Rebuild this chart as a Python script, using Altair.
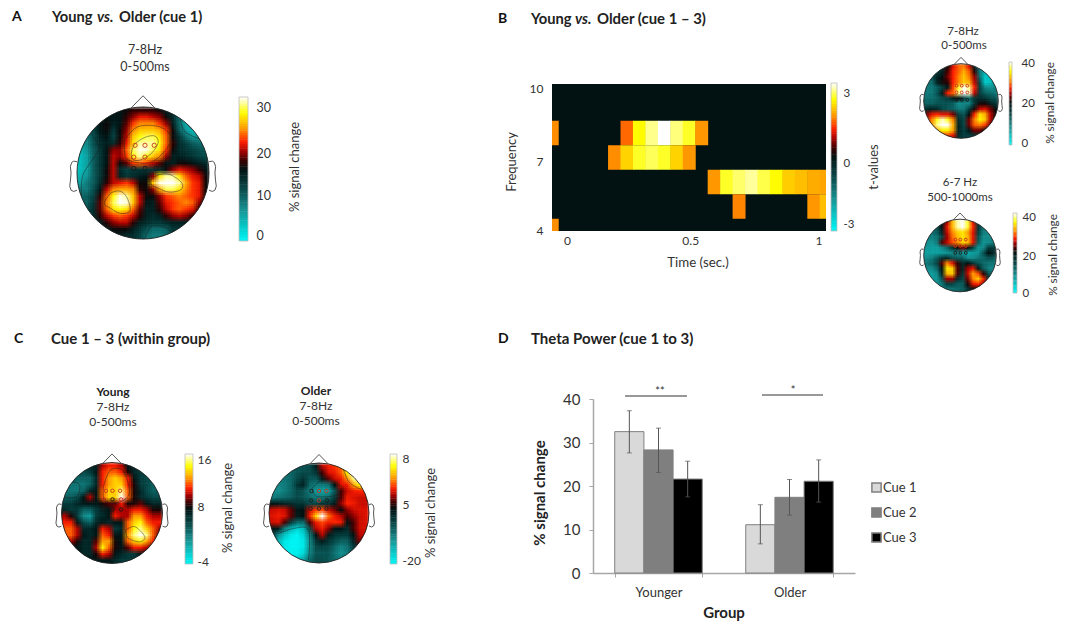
import altair as alt
import numpy as np
import pandas as pd

W, H = 1052, 613
FONT = "Lato"

# ---------- panel D data ----------
groups = ["Younger", "Older"]
cues = ["Cue 1", "Cue 2", "Cue 3"]
bar_younger = [32.5, 28.3, 21.6]
bar_older = [11.1, 17.4, 21.1]
err_hi_younger = [37.3, 33.3, 25.7]
err_lo_younger = [27.6, 23.1, 17.5]
err_hi_older = [15.7, 21.5, 26.0]
err_lo_older = [6.7, 13.3, 16.3]

# ---------- panel B time-frequency t-values (rows: Hz, columns: time index -1..21, 50 ms) ----------
tf_freqs = [8, 7, 6, 5, 4]
tf_8 = [1.9, 0, 0, 0, 0, 0, 1.7, 2.7, 3.15, 3.5, 3.1, 2.85, 1.95, 0, 0, 0, 0, 0, 0, 0, 0, 0, 0]
tf_7 = [0, 0, 0, 0, 0, 1.9, 2.4, 2.85, 3.0, 2.85, 2.4, 1.95, 0, 0, 0, 0, 0, 0, 0, 0, 0, 0, 0]
tf_6 = [0, 0, 0, 0, 0, 0, 0, 0, 0, 0, 0, 0, 0, 1.95, 2.85, 3.05, 3.2, 2.95, 2.7, 2.35, 2.25, 2.1, 2.05]
tf_5 = [0, 0, 0, 0, 0, 0, 0, 0, 0, 0, 0, 0, 0, 0, 0, 1.85, 0, 0, 0, 0, 0, 1.95, 2.25]
tf_4 = [1.9, 0, 0, 0, 0, 0, 0, 0, 0, 0, 0, 0, 0, 0, 0, 0, 0, 0, 0, 0, 0, 0, 0]

# ---------- topographies: % signal change, top row first ----------
map_a = [
 [12,12,12,13,14,15,16,17,18,18,18,18,17,15,13,11,10,9,9,9],
 [12,12,13,15,16,16,16,18,20,22,22,21,20,17,14,9,5,4,4,4],
 [12,11,13,16,17,15,16,19,23,25,25,25,23,20,15,9,4,3,3,4],
 [10,9,12,16,17,13,17,20,25,27,27,27,26,23,17,10,6,3,3,5],
 [8,8,11,15,16,12,17,21,27,29,30,30,28,24,17,13,9,6,6,7],
 [6,7,11,14,15,14,18,22,28,31,31,31,29,24,18,14,12,10,9,9],
 [4,6,10,13,16,20,20,24,30,32,32,30,28,23,17,14,13,12,11,10],
 [3,5,10,13,16,21,20,23,29,31,29,27,25,20,15,15,14,13,12,11],
 [3,5,10,13,16,21,17,19,23,24,23,21,19,16,15,17,17,16,15,14],
 [3,5,10,13,17,21,14,12,13,13,13,13,14,17,20,22,21,20,18,16],
 [4,6,10,13,17,21,15,13,14,15,16,20,28,31,31,28,24,22,21,17],
 [5,8,10,14,18,21,22,23,21,17,17,27,32,33,33,31,26,23,22,17],
 [8,8,11,16,21,25,26,26,25,18,17,20,26,30,30,28,25,23,22,17],
 [9,10,12,18,24,29,32,31,27,21,17,17,20,23,24,25,24,23,22,17],
 [9,10,13,19,25,30,33,32,27,21,16,15,19,22,23,24,25,24,20,16],
 [10,11,14,19,24,28,29,28,24,19,15,15,18,21,23,24,23,22,18,15],
 [11,11,14,18,21,23,24,23,21,18,15,14,15,18,20,21,20,18,15,14],
 [12,12,13,15,18,20,21,21,18,15,14,13,13,14,15,15,15,14,13,13],
 [12,12,13,14,15,17,17,17,15,13,11,9,9,10,13,13,13,13,13,13],
 [13,13,13,14,14,15,15,14,14,12,9,8,8,9,12,13,13,13,13,13],
]
map_b1 = [
 [14,14,15,17,21,27,30,31,27,18,10,8,8,9],
 [12,14,15,18,23,28,30,33,30,22,10,5,6,9],
 [11,13,18,20,24,28,31,34,31,25,11,3,4,9],
 [10,11,18,21,22,28,31,34,33,26,14,3,4,9],
 [10,10,12,15,19,29,37,42,39,28,15,9,8,9],
 [10,10,13,19,28,30,39,42,40,26,15,12,11,10],
 [11,11,12,14,15,18,20,15,11,16,17,16,14,13],
 [12,12,13,13,13,12,8,9,9,16,21,21,18,16],
 [17,18,17,14,13,12,10,10,15,21,26,27,24,20],
 [24,27,28,27,27,24,15,13,20,28,35,33,26,21],
 [27,31,37,40,37,31,17,14,24,31,36,34,26,21],
 [27,32,39,41,41,33,18,14,24,30,31,29,24,21],
 [24,28,33,36,36,32,18,15,19,24,24,21,19,19],
 [21,23,27,29,29,27,17,15,15,16,17,16,16,16],
]
map_b2 = [
 [14,14,15,20,27,35,41,43,39,29,17,13,13,13],
 [13,13,15,22,29,35,41,43,39,30,18,12,12,12],
 [12,12,14,20,28,33,36,37,34,29,17,11,10,10],
 [11,11,12,16,27,32,35,37,35,29,15,10,10,10],
 [10,9,11,25,28,31,33,36,35,29,14,9,10,11],
 [9,8,8,10,13,18,23,26,23,16,9,10,17,17],
 [8,8,8,8,9,10,10,8,7,8,9,15,22,19],
 [10,11,14,18,19,15,14,14,10,10,12,13,15,14],
 [12,13,16,25,33,29,24,19,22,18,15,13,12,12],
 [10,10,13,22,37,36,25,20,27,29,21,14,11,10],
 [8,8,10,20,35,36,25,18,28,34,31,24,15,12],
 [8,8,9,15,27,27,19,16,26,33,36,30,19,14],
 [9,9,9,12,17,16,14,14,23,29,30,27,18,14],
 [11,11,11,11,12,12,13,14,18,22,23,19,15,14],
]
map_young = [
 [5,5,5,6,6,6,10,11,11,10,7,6,5,5,5,5],
 [5,4,4,4,5,7,11,12,12,11,8,6,5,5,5,5],
 [4,4,3,3,3,6,11,13,14,13,11,7,5,4,4,4],
 [3,2,2,2,3,6,11,13,14,14,11,8,5,4,3,3],
 [2,2,2,3,6,7,12,14,14,16,12,8,6,4,3,3],
 [3,3,4,7,10,7,12,14,14,17,12,8,6,5,4,4],
 [5,5,6,7,7,7,8,9,9,11,8,8,9,7,6,6],
 [6,5,5,3,3,5,6,7,10,10,10,11,11,10,8,8],
 [10,8,5,1,0,5,6,7,11,10,10,13,13,11,10,10],
 [11,11,7,4,3,6,7,6,7,7,12,14,15,12,11,11],
 [12,12,10,6,6,7,11,10,5,6,12,15,16,14,12,10],
 [12,12,10,7,6,7,12,11,7,7,13,16,17,16,12,9],
 [10,10,8,6,6,9,13,13,8,7,12,14,15,13,11,8],
 [7,7,7,6,6,10,15,12,8,7,9,11,11,10,8,7],
 [7,7,7,6,6,8,11,10,7,6,5,5,7,7,7,7],
 [7,7,7,7,7,7,7,7,6,5,5,5,6,7,7,7],
]
map_older = [
 [-5,-5,-5,-5,-4,-4,-3,3,5.7,6,6.2,6.4,7,8,8,8],
 [-6,-6,-6,-6,-4,-3,-3,0,5.2,5.9,6,6.4,7.5,8.3,8.3,8.3],
 [-8,-8,-7,-6,-3,0,-4,-4,3,5.3,5.8,6,6.7,7.9,8.3,8.3],
 [-9,-9,-8,-6,0,2,-6,-8,-8,-7,4.5,5.9,6,6.8,7.5,7.7],
 [-10,-10,-8,-6,-3,-4,-8,-11,-12,-12,-4,5.2,5.8,6,6.1,6.1],
 [-8,-7,-6,-5,-3,-4,-6,-8,-8,-6,-1,5.2,6,5.9,5.8,5.8],
 [4,3,2,1,0,0,-3,-2,0,0,3,5.5,6.1,6,5.8,5.8],
 [5.8,5.9,5.8,5.3,3,4,5.8,6.2,6.3,5.8,5.4,4.6,5.5,5.8,5.9,5.9],
 [5.9,6,5.9,5.3,3,4.6,6,7.2,8.3,6.5,6,5.7,5.2,5.5,5.8,5.9],
 [5.8,5.9,5.2,-1,-6,-6,5.2,6,6.3,6,6.1,6,4.2,5.2,5.8,5.9],
 [4,3,-8,-14,-18,-15,-3,5.7,6,5.5,4,4,1,5.2,5.8,5.9],
 [0,-10,-16,-20,-22,-18,-8,4,5.7,3,0,-1,-1,4,5.7,5.8],
 [-6,-14,-20,-22,-22,-20,-10,0,3,0,-3,-5,-5,2,5.4,5.2],
 [-10,-16,-20,-22,-22,-20,-10,-3,-2,-3,-6,-9,-7,-1,2,2],
 [-12,-16,-20,-21,-21,-18,-9,-4,-4,-4,-7,-10,-8,-3,-2,-2],
 [-12,-16,-18,-18,-16,-12,-6,-3,-3,-4,-6,-8,-6,-4,-4,-4],
]

# electrodes (x, y, kind) in head units
elec_a = [(-.12,.42,"r"),(.03,.42,"r"),(.17,.42,"r"),(-.14,.24,"r"),(.03,.24,"r"),(-.14,.07,"k"),(.03,.07,"k"),(.2,.07,"k")]
elec_b1 = [(-.12,.41,"r"),(.02,.41,"r"),(.17,.41,"r"),(-.12,.23,"r"),(.02,.23,"r"),(.17,.23,"r"),(-.12,.03,"k"),(.02,.03,"k"),(.17,.03,"k")]
elec_b2 = [(-.13,.44,"r"),(.01,.44,"r"),(.16,.44,"r"),(-.13,.26,"r"),(.01,.26,"r"),(.16,.26,"r"),(-.13,.07,"k"),(.01,.07,"k"),(.16,.07,"k")]
elec_y = [(-.12,.44,"r"),(.01,.44,"r"),(.16,.44,"r"),(-.16,.27,"r"),(.01,.27,"k"),(.18,.27,"r"),(-.18,.07,"k"),(.01,.07,"k"),(.18,.07,"k")]
elec_o = [(-.15,.44,"k"),(0,.44,"r"),(.15,.44,"r"),(-.16,.25,"k"),(0,.25,"r"),(.16,.25,"k"),(-.17,.09,"k"),(0,.09,"k"),(.15,.09,"k")]

nose = [(-.18,.985),(0,1.17),(.18,.985)]
ear = [(1.0,.17),(1.05,.18),(1.08,.16),(1.1,.1),(1.09,.0),(1.1,-.12),(1.11,-.2),(1.09,-.26),(1.05,-.28),(1.0,-.26)]

# contour lines, in head units
cont_a = [
 [(-.18,.28),(-.13,.43),(.03,.54),(.18,.56),(.23,.46),(.13,.30),(-.03,.20),(-.15,.20),(-.18,.28)],
 [(.10,-.12),(.23,-.03),(.40,-.02),(.58,-.14),(.58,-.25),(.40,-.29),(.23,-.23),(.13,-.18),(.10,-.12)],
 [(-.58,-.43),(-.48,-.30),(-.33,-.28),(-.23,-.40),(-.20,-.58),(-.35,-.61),(-.50,-.53),(-.58,-.48),(-.58,-.43)],
 [(-.28,.50),(-.08,.70),(.25,.70),(.43,.53),(.30,.30),(.08,.15),(-.23,.20),(-.28,.35),(-.28,.50)],
 [(.56,.88),(.63,.63),(.91,.50)],
 [(.65,.80),(.72,.68),(.95,.55)],
 [(.03,-.99),(.13,-.81),(.35,-.83),(.51,-.96)],
 [(-.81,.63),(-.68,.43),(-.68,.33),(-.91,-.03),(-.93,-.35)],
]
cont_y = [
 [(-.17,.52),(-.04,.84),(.19,.86),(.32,.59),(.32,.33),(.09,.2),(-.15,.25),(-.17,.52)],
 [(.27,-.34),(.45,-.27),(.65,-.47),(.55,-.57),(.32,-.50),(.27,-.34)],
 [(-.97,.32),(-.80,.59),(-.64,.55),(-.70,.32),(-.97,.32)],
]
cont_o = [
 [(-.81,-.41),(-.51,-.31),(-.21,-.34),(-.21,-.94)],
 [(-.14,.49),(.09,.66),(.46,.53),(.36,.36),(-.04,.33),(-.14,.49)],
 [(.47,.94),(.60,.62),(.85,.47)],
]

# ---------- colour map ----------
T_STOPS = [0, .05, .22, .36, .5, .56, .62, .69, .78, .89, 1]
C_STOPS = ["#00f5f5", "#00e0e0", "#189090", "#0a4a4a", "#021212", "#3a0000", "#a00000", "#ff2000", "#ff9900", "#ffff00", "#ffffff"]

def t2v(t, lo, mid, hi):
    return lo + t / .5 * (mid - lo) if t <= .5 else mid + (t - .5) / .5 * (hi - mid)

def color_scale(lo, mid, hi):
    return alt.Scale(domain=[t2v(t, lo, mid, hi) for t in T_STOPS], range=C_STOPS,
                     interpolate="rgb", clamp=True)

layers = []

def px(x): return x - 8
def py(y): return y - 8

def text(s, x, y, size=12, bold=False, italic=False, angle=0, align="left", color="#333333"):
    mk = dict(text=s, font=FONT, fontSize=size, align=align, baseline="middle", color=color, angle=angle)
    if bold: mk["fontWeight"] = "bold"
    if italic: mk["fontStyle"] = "italic"
    layers.append(alt.Chart().mark_text(**mk).encode(x=alt.value(px(x)), y=alt.value(py(y))))

def colorbar(x0, x1, ytop, ybot, lo, mid, hi, ticks, labels_expr="'' + datum.value", n=64, label_pad=6, size=12):
    ymid = (ytop + ybot) / 2
    ys = alt.Scale(domain=[lo, mid, hi], range=[py(ybot), py(ymid), py(ytop)], nice=False, zero=False)
    ts = np.arange(n) / n
    d = pd.DataFrame({
        "v0": [t2v(t, lo, mid, hi) for t in ts],
        "v1": [t2v(min(t + 1.2 / n, 1), lo, mid, hi) for t in ts],
        "c": [t2v(t + .5 / n, lo, mid, hi) for t in ts],
    })
    ax = dict(orient="right", values=ticks, title=None, domain=False, ticks=False, grid=False,
              labelFont=FONT, labelFontSize=size, labelColor="#333333", labelPadding=label_pad,
              offset=-(W - px(x1)), labelOverlap=False, labelBound=False, labelFlush=False, labelExpr=labels_expr)
    layers.append(alt.Chart(d).mark_rect().encode(
        x=alt.value(px(x0)), x2=alt.value(px(x1)),
        y=alt.Y("v0:Q", scale=ys, axis=alt.Axis(**ax)), y2="v1:Q",
        color=alt.Color("c:Q", scale=color_scale(lo, mid, hi), legend=None)))
    d2 = pd.DataFrame({"a": [lo], "b": [hi]})
    layers.append(alt.Chart(d2).mark_rect(fill=None, stroke="#bdbdbd", strokeWidth=0.8).encode(
        x=alt.value(px(x0)), x2=alt.value(px(x1)),
        y=alt.Y("a:Q", scale=ys, axis=None), y2="b:Q"))

def head(grid, cx, cy, r, lo, mid, hi, elec, esize=14, contours=()):
    sx = alt.Scale(domain=[-1, 1], range=[px(cx - r), px(cx + r)], nice=False, zero=False)
    sy = alt.Scale(domain=[-1, 1], range=[py(cy + r), py(cy - r)], nice=False, zero=False)
    X = lambda f: alt.X(f, scale=sx, axis=None)
    Y = lambda f: alt.Y(f, scale=sy, axis=None)
    n = len(grid); c = 2 / n
    base = []
    for j, row in enumerate(grid):
        for i, v in enumerate(row):
            x0, x1 = -1 + i * c, -1 + (i + 1) * c
            y1, y0 = 1 - j * c, 1 - (j + 1) * c
            nx = x0 if x0 > 0 else (x1 if x1 < 0 else 0)
            ny = y0 if y0 > 0 else (y1 if y1 < 0 else 0)
            if nx * nx + ny * ny < (1 + .5 * c) ** 2:
                base.append((x0, x1, y0, y1, v))
    # the same cells are stacked at sub-cell shifts so that their edges soften as in the blurred original
    rows = []
    k = 0
    for dy in (-c / 3, 0, c / 3):
        for dx in (-c / 3, 0, c / 3):
            k += 1
            for x0, x1, y0, y1, v in base:
                rows.append(dict(x0=x0 + dx, x1=x1 + dx + .03 * c, y0=y0 + dy - .03 * c, y1=y1 + dy, v=v, a=1 / k))
    layers.append(alt.Chart(pd.DataFrame(rows)).mark_rect().encode(
        x=X("x0:Q"), x2="x1:Q", y=Y("y0:Q"), y2="y1:Q",
        color=alt.Color("v:Q", scale=color_scale(lo, mid, hi), legend=None),
        opacity=alt.Opacity("a:Q", scale=None, legend=None)))
    if contours:
        cr = [dict(x=a, y=b, o=m, p=q) for q, line in enumerate(contours) for m, (a, b) in enumerate(line)]
        layers.append(alt.Chart(pd.DataFrame(cr)).mark_line(color="#1a1a1a", strokeWidth=0.6, opacity=.75, interpolate="cardinal").encode(
            x=X("x:Q"), y=Y("y:Q"), order="o:Q", detail="p:N"))
    cell_px = c * r
    w = 3 * cell_px
    centre = pd.DataFrame({"x": [0.0], "y": [0.0]})
    layers.append(alt.Chart(centre).mark_point(filled=False, stroke="white", strokeWidth=w, size=(2 * r + w) ** 2, opacity=1).encode(
        x=X("x:Q"), y=Y("y:Q")))
    layers.append(alt.Chart(centre).mark_point(filled=False, stroke="#222222", strokeWidth=0.9, size=(2 * r) ** 2, opacity=1).encode(
        x=X("x:Q"), y=Y("y:Q")))
    outlines = []
    for k2, (a, b) in enumerate(nose): outlines.append(dict(x=a, y=b, o=k2, p="n"))
    for k2, (a, b) in enumerate(ear): outlines.append(dict(x=a, y=b, o=k2, p="r"))
    for k2, (a, b) in enumerate(ear): outlines.append(dict(x=-a, y=b, o=k2, p="l"))
    layers.append(alt.Chart(pd.DataFrame(outlines)).mark_line(color="#444444", strokeWidth=0.9).encode(
        x=X("x:Q"), y=Y("y:Q"), order="o:Q", detail="p:N"))
    e = pd.DataFrame(elec, columns=["x", "y", "k"])
    layers.append(alt.Chart(e).mark_point(filled=False, size=esize, strokeWidth=0.9, opacity=1).encode(
        x=X("x:Q"), y=Y("y:Q"),
        color=alt.Color("k:N", scale=alt.Scale(domain=["r", "k"], range=["#c8321e", "#1a1a1a"]), legend=None)))

# ---------- panel A ----------
head(map_a, 143, 173, 66, -1.4, 16.5, 32.3, elec_a, 18, cont_a)
colorbar(239, 248, 97, 241, -1.4, 16.5, 32.3, [0, 10, 20, 30], label_pad=8, size=12.5)
text("7-8Hz", 145, 50, 12.5, align="center")
text("0-500ms", 145, 67, 12.5, align="center")
text("% signal change", 295, 167, 13, angle=270, align="center")

# ---------- panel B time-frequency ----------
tf_rows = {10: None, 9: None, 8: tf_8, 7: tf_7, 6: tf_6, 5: tf_5, 4: tf_4}
rows = [dict(t0=-.05, t1=1.05, f0=4, f1=10, v=0)]
for f, row in tf_rows.items():
    row = row if row is not None else [0] * 23
    for k, v in enumerate(row):
        if v:
            t = (k - 1) * 0.05
            rows.append(dict(t0=max(t - .025, -.05), t1=min(t + .027, 1.05), f0=max(f - .5, 4), f1=min(f + .5, 10), v=v))
tf_lo, tf_mid, tf_hi = -3.5, 0, 3.5
tx = alt.Scale(domain=[-.05, 1.05], range=[px(552), px(826)], nice=False, zero=False)
ty = alt.Scale(domain=[4, 10], range=[py(231), py(84)], nice=False, zero=False)
layers.append(alt.Chart(pd.DataFrame(rows)).mark_rect().encode(
    x=alt.X("t0:Q", scale=tx, axis=alt.Axis(values=[0.01, 0.505, 1.02], labelExpr="round(datum.value*2)/2", title=None,
            orient="bottom", domain=False, ticks=False, grid=False, labelFont=FONT, labelFontSize=12, labelColor="#333333",
            labelPadding=4, offset=py(231) - H, labelOverlap=False, labelBound=False, labelFlush=False)),
    x2="t1:Q",
    y=alt.Y("f0:Q", scale=ty, axis=alt.Axis(values=[9.83, 6.83, 4.03], labelExpr="round(datum.value)", title=None,
            orient="left", domain=False, ticks=False, grid=False, labelFont=FONT, labelFontSize=12, labelColor="#333333",
            labelPadding=9, offset=-px(552), labelOverlap=False, labelBound=False, labelFlush=False)),
    y2="f1:Q",
    color=alt.Color("v:Q", scale=color_scale(tf_lo, tf_mid, tf_hi), legend=None)))
colorbar(831, 837, 83, 231, tf_lo, tf_mid, tf_hi, [3, -0.3, -3.2], "round(datum.value)", label_pad=6, size=11.5)
text("t-values", 874, 167, 13, angle=270, align="center")
text("Frequency", 512, 162, 13, angle=270, align="center")
text("Time (sec.)", 698, 263, 13.3, align="center")

# ---------- panel B small maps ----------
head(map_b1, 961, 101, 37.3, -1, 20, 41, elec_b1, 8)
colorbar(1009, 1012, 62, 145, -1, 20, 41, [0, 20, 40], label_pad=9, size=11.5)
text("7-8Hz", 963, 32, 11.5, align="center")
text("0-500ms", 964, 46, 11.5, align="center")
text("% signal change", 1050, 103, 11.8, angle=270, align="center")

head(map_b2, 960, 255.5, 36.3, 0, 22, 42.5, elec_b2, 8)
colorbar(1013, 1017, 213, 293, 0, 22, 42.5, [0, 20, 40], label_pad=5, size=11.5)
text("6-7 Hz", 960, 183, 11.5, align="center")
text("500-1000ms", 960, 198, 11.5, align="center")
text("% signal change", 1053, 255, 11.8, angle=270, align="center")

# ---------- panel C ----------
head(map_young, 112, 513, 50.5, -4.5, 7.5, 17, elec_y, 12, cont_y)
colorbar(185, 193, 454, 564, -4.5, 7.5, 17, [-4, 8, 16], label_pad=4, size=12)
text("Young", 113, 392, 12, True, align="center", color="#222222")
text("7-8Hz", 113, 407, 12, align="center")
text("0-500ms", 113, 422, 12, align="center")
text("% signal change", 228, 508, 13, angle=270, align="center")

head(map_older, 319, 513, 50, -21.5, 4.7, 8.3, elec_o, 12, cont_o)
colorbar(390, 397, 454, 564, -21.5, 4.7, 8.3, [-20, 5, 8], label_pad=5, size=12)
text("Older", 316, 391, 12, True, align="center", color="#222222")
text("7-8Hz", 316, 406, 12, align="center")
text("0-500ms", 316, 421, 12, align="center")
text("% signal change", 431, 513, 13, angle=270, align="center")

# ---------- panel letters and titles ----------
text("A", 12, 17, 14, True, color="#111111")
text("Young", 52, 18, 14.7, True, color="#222222")
text("vs.", 97, 18, 14.7, True, True, color="#222222")
text("Older (cue 1)", 119, 18, 14.7, True, color="#222222")
text("B", 498, 19, 14, True, color="#111111")
text("Young", 531, 20, 14.7, True, color="#222222")
text("vs.", 575, 20, 14.7, True, True, color="#222222")
text("Older (cue 1 \u2013 3)", 597, 20, 14.9, True, color="#222222")
text("C", 14, 339, 14, True, color="#111111")
text("Cue 1 \u2013 3 (within group)", 51, 339, 15, True, color="#222222")
text("D", 498, 339, 14, True, color="#111111")
text("Theta Power (cue 1 to 3)", 531, 339, 15, True, color="#222222")

# ---------- panel D ----------
bars = pd.DataFrame({
    "group": [g for g in groups for _ in cues],
    "cue": cues * 2,
    "value": bar_younger + bar_older,
    "hi": err_hi_younger + err_hi_older,
    "lo": err_lo_younger + err_lo_older,
})
bx = alt.Scale(domain=groups, range=[px(593), px(855)], paddingInner=.332, paddingOuter=.166)
by = alt.Scale(domain=[0, 40], range=[py(573), py(399)], nice=False)
xo = alt.XOffset("cue:N", scale=alt.Scale(domain=cues, paddingInner=0, paddingOuter=0))
layers.append(alt.Chart(bars).mark_bar(stroke="#808080", strokeWidth=1).encode(
    x=alt.X("group:N", scale=bx, sort=groups, axis=alt.Axis(
        title=None, labelAngle=0, tickBand="extent", domainColor="#a6a6a6", tickColor="#a6a6a6", domainWidth=1.5, tickWidth=1,
        tickSize=4, grid=False, labelFont=FONT, labelFontSize=13, labelColor="#333333", labelPadding=9,
        orient="bottom", offset=py(573) - H)),
    xOffset=xo,
    y=alt.Y("value:Q", scale=by, axis=alt.Axis(
        title=None, values=[0, 10, 20, 30, 40], domainColor="#a6a6a6", tickColor="#a6a6a6", domainWidth=1.5, tickWidth=1,
        tickSize=4, grid=False, labelFont=FONT, labelFontSize=15, labelColor="#333333", labelPadding=9,
        orient="left", offset=-px(593))),
    color=alt.Color("cue:N", scale=alt.Scale(domain=cues, range=["#d9d9d9", "#7f7f7f", "#000000"]),
                    legend=alt.Legend(orient="none", legendX=px(870), legendY=py(481), title=None, symbolType="square",
                                      symbolSize=85, symbolStrokeColor="#808080", labelFont=FONT, labelFontSize=13,
                                      labelColor="#333333", rowPadding=8, labelOffset=0)),
))
layers.append(alt.Chart(bars).mark_rule(color="#555555", strokeWidth=1).encode(
    x=alt.X("group:N", scale=bx, sort=groups, axis=None), xOffset=xo,
    y=alt.Y("lo:Q", scale=by, axis=None), y2="hi:Q"))
for f in ["lo", "hi"]:
    layers.append(alt.Chart(bars).mark_tick(color="#555555", orient="horizontal", size=5, thickness=1).encode(
        x=alt.X("group:N", scale=bx, sort=groups, axis=None), xOffset=xo,
        y=alt.Y(f + ":Q", scale=by, axis=None)))

def bracket(x0, x1, y):
    layers.append(alt.Chart().mark_rule(color="#333333", strokeWidth=1).encode(
        x=alt.value(px(x0)), x2=alt.value(px(x1)), y=alt.value(py(y))))
bracket(625, 687, 396)
bracket(762, 823, 395)
text("**", 660, 392, 11, align="center")
text("*", 793, 391, 11, align="center")
text("% signal change", 540, 493, 15, True, angle=270, align="center", color="#222222")
text("Group", 724, 613, 15, True, align="center", color="#222222")

chart = alt.layer(*layers).resolve_scale(
    x="independent", y="independent", color="independent").properties(
    width=W, height=H, padding=0, autosize=alt.AutoSizeParams(type="none"), background="white",
).configure_view(stroke=None)

chart.save("out.html", embed_options={"renderer": "svg", "actions": False})
